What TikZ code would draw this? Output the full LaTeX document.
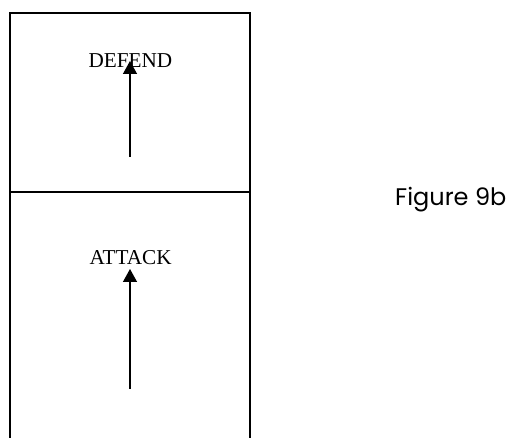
\documentclass[tikz,border=0pt]{standalone}
\usepackage{fontspec}
\setmainfont{Liberation Serif}
\newfontfamily\gothicfont{Poppins}
\usepackage{tikz}
\usetikzlibrary{positioning, calc, arrows.meta}
\tikzstyle{Arrow} = [
%Custom arrow style for the moves:
line width = 1.3pt,
-{Triangle[length=13pt, width=14pt]}
]

\begin{document}
\begin{tikzpicture}[x=1pt, y=-1pt,
				field/.style = {line width = 1.6pt},
				move/.style = {font = \fontsize{21.2}{25}\selectfont, inner sep = 0pt, anchor = base},
				caption/.style = {font = \gothicfont\fontsize{24}{28}\selectfont, inner sep = 0pt, anchor = base west},
			]

			\useasboundingbox (0,0) rectangle (512,438);

			% the two halves of the field
			\draw[field](10,438)--(10,13)--(250,13)--(250,438);
			\draw[field](10,192)--(250,192);

			\node[move](defend) at (130.5,68){DEFEND};
			\node[move](attack) at (130.7,265){ATTACK};
			\node[caption](fig) at (395,206){Figure 9b};

			\coordinate(defendStart) at (130,157);
			\coordinate(defendTip) at (130,61);
			\coordinate(attackStart) at (130,389);
			\coordinate(attackTip) at (130,269);

			\draw[Arrow](defendStart)--(defendTip);
			\draw[Arrow](attackStart)--(attackTip);

		\end{tikzpicture}
\end{document}
